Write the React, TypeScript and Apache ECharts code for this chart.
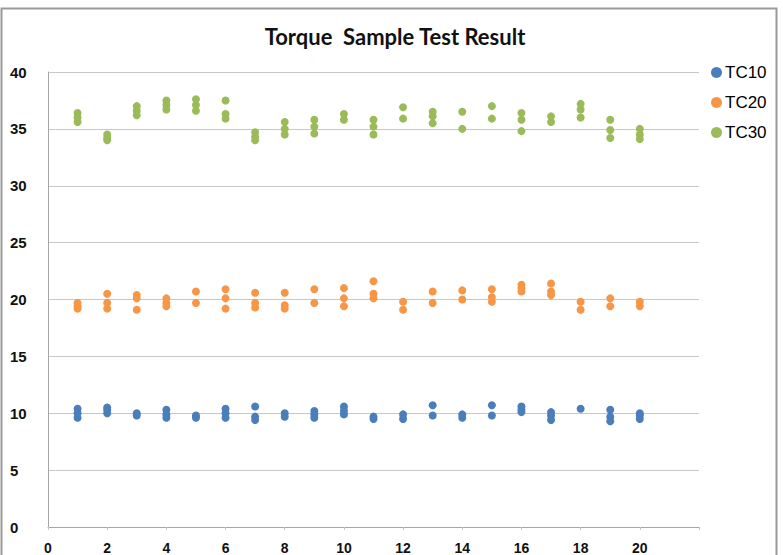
import React, { useEffect, useRef } from "react";
import * as echarts from "echarts";

const seriesNames = ["TC10", "TC20", "TC30"];
const seriesColors = ["#4a7ebb", "#f79646", "#9bbb59"];
const xTicks = [0, 2, 4, 6, 8, 10, 12, 14, 16, 18, 20];
const yTicks = [0, 5, 10, 15, 20, 25, 30, 35, 40];

// [sample number, torque]
const tc10: number[][] = [
  [1, 10.4], [1, 10.0], [1, 9.6],
  [2, 10.5], [2, 10.3], [2, 10.0],
  [3, 10.0], [3, 9.8],
  [4, 10.3], [4, 9.9], [4, 9.6],
  [5, 9.8], [5, 9.6],
  [6, 10.4], [6, 10.0], [6, 9.6],
  [7, 10.6], [7, 9.7], [7, 9.4],
  [8, 10.0], [8, 9.7],
  [9, 10.2], [9, 9.9], [9, 9.6],
  [10, 10.6], [10, 10.2], [10, 9.9],
  [11, 9.7], [11, 9.5],
  [12, 9.9], [12, 9.5],
  [13, 10.7], [13, 9.8],
  [14, 9.9], [14, 9.6],
  [15, 10.7], [15, 9.8],
  [16, 10.6], [16, 10.3], [16, 10.1],
  [17, 10.1], [17, 9.8], [17, 9.4],
  [18, 10.4],
  [19, 10.3], [19, 9.7], [19, 9.3],
  [20, 10.0], [20, 9.8], [20, 9.5],
];

const tc20: number[][] = [
  [1, 19.7], [1, 19.4], [1, 19.2],
  [2, 20.5], [2, 19.7], [2, 19.2],
  [3, 20.4], [3, 20.1], [3, 19.1],
  [4, 20.1], [4, 19.7], [4, 19.4],
  [5, 20.7], [5, 19.7],
  [6, 20.9], [6, 20.1], [6, 19.2],
  [7, 20.6], [7, 19.7], [7, 19.3],
  [8, 20.6], [8, 19.5], [8, 19.2],
  [9, 20.9], [9, 19.7],
  [10, 21.0], [10, 20.1], [10, 19.4],
  [11, 21.6], [11, 20.5], [11, 20.1],
  [12, 19.8], [12, 19.1],
  [13, 20.7], [13, 19.7],
  [14, 20.8], [14, 20.0],
  [15, 20.9], [15, 20.2], [15, 19.8],
  [16, 21.3], [16, 21.0], [16, 20.7],
  [17, 21.4], [17, 20.7], [17, 20.4],
  [18, 19.8], [18, 19.1],
  [19, 20.1], [19, 19.4],
  [20, 19.8], [20, 19.4],
];

const tc30: number[][] = [
  [1, 36.4], [1, 36.0], [1, 35.6],
  [2, 34.5], [2, 34.2], [2, 34.0],
  [3, 37.0], [3, 36.6], [3, 36.2],
  [4, 37.5], [4, 37.1], [4, 36.7],
  [5, 37.6], [5, 37.1], [5, 36.6],
  [6, 37.5], [6, 36.3], [6, 35.9],
  [7, 34.7], [7, 34.3], [7, 34.0],
  [8, 35.6], [8, 35.0], [8, 34.5],
  [9, 35.8], [9, 35.2], [9, 34.6],
  [10, 36.3], [10, 35.8],
  [11, 35.8], [11, 35.2], [11, 34.5],
  [12, 36.9], [12, 35.9],
  [13, 36.5], [13, 36.1], [13, 35.5],
  [14, 36.5], [14, 35.0],
  [15, 37.0], [15, 35.9],
  [16, 36.4], [16, 35.8], [16, 34.8],
  [17, 36.1], [17, 35.6],
  [18, 37.2], [18, 36.7], [18, 36.0],
  [19, 35.8], [19, 34.9], [19, 34.2],
  [20, 35.0], [20, 34.5], [20, 34.1],
];

const seriesData = [tc10, tc20, tc30];

export default function App() {
  const ref = useRef<HTMLDivElement>(null);
  useEffect(() => {
    if (!ref.current) return;
    const chart = echarts.init(ref.current, null, { renderer: "svg" });
    chart.setOption({
      animation: false,
      backgroundColor: "#ffffff",
      title: {
        text: "Torque  Sample Test Result",
        left: 390,
        textAlign: "center",
        top: 20,
        textStyle: {
          fontFamily: "Lato",
          fontWeight: "bold",
          fontSize: 22,
          color: "#111111",
        },
      },
      legend: {
        orient: "vertical",
        left: 706,
        top: 58,
        itemWidth: 11,
        itemHeight: 11,
        itemGap: 11,
        icon: "circle",
        textStyle: {
          fontFamily: "Liberation Sans",
          fontSize: 17,
          lineHeight: 19,
          color: "#000000",
          padding: [0, 0, 0, -2],
        },
        data: seriesNames,
      },
      graphic: [
        {
          type: "rect",
          shape: { x: 1.5, y: 8.5, width: 775, height: 560 },
          style: { fill: "none", stroke: "#9a9a9a", lineWidth: 2 },
          silent: true,
        },
      ],
      grid: { left: 48, right: 84, top: 72, bottom: 28, containLabel: false },
      xAxis: {
        type: "value",
        min: 0,
        max: 22,
        interval: 2,
        axisLine: { show: true, lineStyle: { color: "#a6a6a6", width: 1 } },
        axisTick: { show: true, length: 3, lineStyle: { color: "#c8c8c8" } },
        splitLine: { show: false },
        axisLabel: {
          margin: 14,
          fontFamily: "Liberation Sans",
          fontWeight: "bold",
          fontSize: 14,
          color: "#111111",
          formatter: (v: number) => (xTicks.includes(v) ? String(v) : ""),
        },
      },
      yAxis: {
        type: "value",
        min: 0,
        max: 40,
        interval: 5,
        axisLine: { show: true, lineStyle: { color: "#a6a6a6", width: 1 } },
        axisTick: { show: false },
        splitLine: { show: true, lineStyle: { color: "#c8c8c8", width: 1 } },
        axisLabel: {
          margin: 38,
          align: "left",
          fontFamily: "Liberation Sans",
          fontWeight: "bold",
          fontSize: 15,
          color: "#111111",
          formatter: (v: number) => (yTicks.includes(v) ? String(v) : ""),
        },
      },
      series: seriesNames.map((name, i) => ({
        name,
        type: "scatter",
        data: seriesData[i],
        symbol: "circle",
        symbolSize: 8,
        itemStyle: { color: seriesColors[i], opacity: 1 },
      })),
    });
    return () => chart.dispose();
  }, []);
  return (
    <div
      ref={ref}
      style={{ position: "fixed", left: 0, top: 0, width: 783, height: 555 }}
    />
  );
}
